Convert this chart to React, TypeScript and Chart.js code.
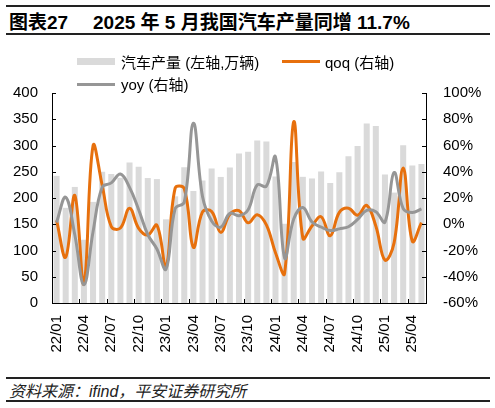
import { useEffect, useRef } from 'react';
import { Chart, registerables } from 'chart.js';

Chart.register(...registerables);

const months = [
  '22/01', '22/02', '22/03', '22/04', '22/05', '22/06', '22/07', '22/08', '22/09', '22/10', '22/11', '22/12',
  '23/01', '23/02', '23/03', '23/04', '23/05', '23/06', '23/07', '23/08', '23/09', '23/10', '23/11', '23/12',
  '24/01', '24/02', '24/03', '24/04', '24/05', '24/06', '24/07', '24/08', '24/09', '24/10', '24/11', '24/12',
  '25/01', '25/02', '25/03', '25/04', '25/05',
];

// 汽车产量 (万辆)
const output = [
  242.1, 181.3, 221.1, 120.5, 192.6, 249.9, 245.5, 238.4, 267.5, 259.3, 238.0, 236.0,
  159.4, 203.2, 258.4, 213.3, 233.3, 256.1, 240.1, 258.3, 285.0, 288.2, 309.3, 307.7,
  241.0, 150.9, 268.7, 240.3, 237.2, 250.7, 228.6, 249.2, 279.6, 299.0, 342.1, 337.3,
  245.0, 210.3, 300.6, 261.7, 264.9,
];

// qoq (%)
const qoq = [
  3.0, -25.1, 22.0, -45.5, 59.8, 29.7, -1.8, -2.9, 12.2, -3.1, -8.2, -0.8,
  -32.5, 27.5, 27.2, -17.5, 9.4, 9.8, -6.2, 7.6, 10.3, 1.1, 7.3, -0.5,
  -21.7, -37.4, 78.1, -10.6, -1.3, 5.7, -8.8, 9.0, 12.2, 6.9, 14.4, -1.4,
  -27.4, -14.2, 42.9, -12.9, 1.2,
];

// yoy (%)
const yoy = [
  1.4, 20.6, -8.0, -46.1, -5.7, 28.2, 31.5, 38.3, 28.1, 11.1, -7.9, -18.8,
  -34.2, 11.9, 16.9, 77.0, 21.1, 2.5, -2.2, 8.3, 6.5, 11.1, 30.0, 29.0,
  51.2, -25.7, 4.0, 12.7, 1.7, -2.1, -4.8, -3.5, -1.9, 3.7, 10.6, 9.6,
  1.7, 39.4, 11.9, 8.9, 11.7,
];

const FONT = '"Liberation Sans", Arial, "Noto Sans CJK SC", sans-serif';
const ORANGE = '#E7700D';
const GREY = '#969696';
const BAR = '#DADADA';

// ticks pointing into the plot
const innerTicks = {
  id: 'innerTicks',
  afterDatasetsDraw(chart: any) {
    const { ctx, chartArea: a, scales } = chart;
    ctx.save();
    ctx.strokeStyle = '#000';
    ctx.lineWidth = 1;
    ctx.beginPath();
    scales.y.ticks.forEach((t: any) => {
      const y = Math.round(scales.y.getPixelForValue(t.value)) + 0.5;
      ctx.moveTo(a.left, y);
      ctx.lineTo(a.left + 4, y);
    });
    scales.y1.ticks.forEach((t: any) => {
      const y = Math.round(scales.y1.getPixelForValue(t.value)) + 0.5;
      ctx.moveTo(a.right, y);
      ctx.lineTo(a.right - 4, y);
    });
    const step = (a.right - a.left) / months.length;
    for (let k = 3; k < months.length; k += 3) {
      const x = Math.round(a.left + k * step) + 0.5;
      ctx.moveTo(x, a.bottom);
      ctx.lineTo(x, a.bottom - 4);
    }
    ctx.stroke();
    ctx.restore();
  },
};

const ProductionChart = () => {
  const canvasRef = useRef<HTMLCanvasElement>(null);

  useEffect(() => {
    const ctx = canvasRef.current!.getContext('2d')!;
    const chart = new Chart(ctx, {
      type: 'bar',
      data: {
        labels: months,
        datasets: [
          {
            type: 'line',
            label: 'yoy (右轴)',
            data: yoy,
            yAxisID: 'y1',
            borderColor: GREY,
            borderWidth: 3,
            pointRadius: 0,
            tension: 0.4,
            order: 1,
          },
          {
            type: 'line',
            label: 'qoq (右轴)',
            data: qoq,
            yAxisID: 'y1',
            borderColor: ORANGE,
            borderWidth: 3,
            pointRadius: 0,
            tension: 0.4,
            order: 2,
          },
          {
            type: 'bar',
            label: '汽车产量 (左轴,万辆)',
            data: output,
            yAxisID: 'y',
            backgroundColor: BAR,
            categoryPercentage: 1,
            barPercentage: 0.66,
            order: 3,
          },
        ] as any,
      },
      options: {
        responsive: false,
        animation: false,
        layout: { padding: { top: 93, left: 0, right: 0, bottom: 0 } },
        plugins: { legend: { display: false }, tooltip: { enabled: false } },
        scales: {
          x: {
            offset: true,
            grid: { display: false, drawTicks: false },
            border: { display: true, color: '#000', width: 1 },
            ticks: {
              autoSkip: false,
              minRotation: 90,
              maxRotation: 90,
              padding: 12,
              color: '#000',
              font: { family: FONT, size: 15 },
              callback: (_v: any, i: number) => (i % 3 === 0 ? months[i] : ''),
            },
            afterFit: (s: any) => { s.height = 67; },
          },
          y: {
            position: 'left',
            min: 0,
            max: 400,
            grid: { display: false, drawTicks: false },
            border: { display: true, color: '#000', width: 1 },
            ticks: { stepSize: 50, padding: 14, color: '#000', font: { family: FONT, size: 15 } },
            afterFit: (s: any) => { s.width = 52; },
          },
          y1: {
            position: 'right',
            min: -60,
            max: 100,
            grid: { display: false, drawTicks: false },
            border: { display: true, color: '#000', width: 1 },
            ticks: {
              stepSize: 20,
              padding: 17,
              color: '#000',
              font: { family: FONT, size: 15 },
              callback: (v: any) => v + '%',
            },
            afterFit: (s: any) => { s.width = 69; },
          },
        },
      },
      plugins: [innerTicks],
    });

    return () => {
      chart.destroy();
    };
  }, []);

  return <canvas ref={canvasRef} width={495} height={370} style={{ position: 'absolute', left: 0, top: 0 }} />;
};

const rule = (top: number) => (
  <div style={{ position: 'absolute', left: 6, width: 484, top, height: 2, background: '#222' }} />
);

export default function App() {
  const legendText = { position: 'absolute' as const, fontSize: 15, lineHeight: '15px', color: '#000', whiteSpace: 'nowrap' as const };
  return (
    <div style={{ position: 'fixed', left: 0, top: 0, width: 495, height: 408, background: '#fff', fontFamily: FONT }}>
      {rule(5)}
      <div style={{ position: 'absolute', left: 9, top: 13, fontSize: 19, lineHeight: '19px', fontWeight: 'bold', whiteSpace: 'nowrap' }}>
        图表27
      </div>
      <div style={{ position: 'absolute', left: 93, top: 13, fontSize: 19, lineHeight: '19px', fontWeight: 'bold', whiteSpace: 'nowrap' }}>
        2025 年 5 月我国汽车产量同增 11.7%
      </div>
      {rule(33)}

      <ProductionChart />

      <div style={{ position: 'absolute', left: 77, top: 58, width: 38, height: 7, background: BAR }} />
      <div style={{ ...legendText, left: 121, top: 55 }}>汽车产量 (左轴,万辆)</div>
      <div style={{ position: 'absolute', left: 282, top: 60, width: 38, height: 3, background: ORANGE }} />
      <div style={{ ...legendText, left: 325, top: 55 }}>qoq (右轴)</div>
      <div style={{ position: 'absolute', left: 77, top: 83, width: 38, height: 3, background: GREY }} />
      <div style={{ ...legendText, left: 121, top: 77 }}>yoy (右轴)</div>

      {rule(377)}
      <div style={{ position: 'absolute', left: 9, top: 384, fontSize: 16, lineHeight: '16px', fontStyle: 'italic', color: '#222', whiteSpace: 'nowrap' }}>
        资料来源：ifind，平安证券研究所
      </div>
      {rule(400)}
    </div>
  );
}
